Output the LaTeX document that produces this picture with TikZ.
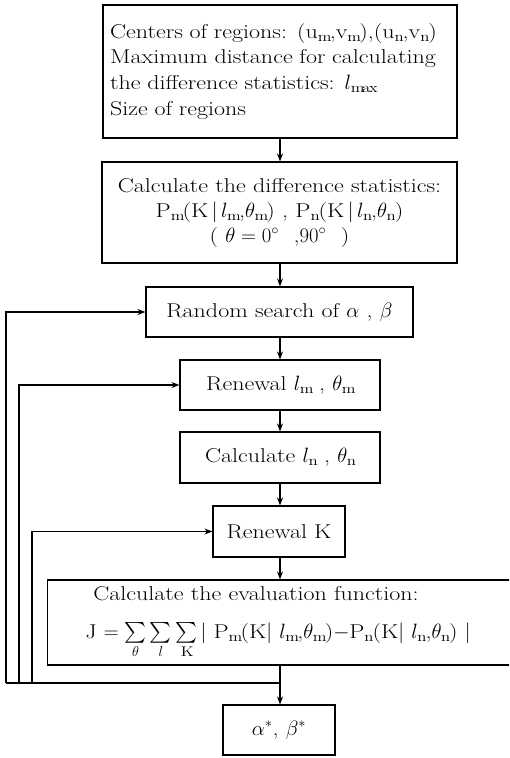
\documentclass[tikz,border=0pt]{standalone}
\usepackage{amsmath}
\usepackage{fontspec}
\setmainfont{Latin Modern Roman}[FakeStretch=1.2]
\usetikzlibrary{arrows.meta}
\newcommand{\tsum}{\mathop{\textstyle\sum}\limits}
\begin{document}
\begin{tikzpicture}[x=1pt,y=-1pt,
  txt/.style={font=\fontsize{20}{25}\selectfont},
  box/.style={draw,line width=1.1pt,inner sep=0pt,txt},
  flow/.style={line width=1.1pt,-{Stealth[length=8pt,width=6pt]}},
  loopline/.style={line width=1.1pt}]
\clip (0,0) rectangle (509,758);
\useasboundingbox (0,0) rectangle (509,758);
\node[box,minimum width=354pt,minimum height=133pt] (b1) at (280,71.5) {};
\node[txt,font=\fontsize{20}{25.7}\selectfont,text width=342pt,align=left,anchor=north west,inner sep=0pt] (t1) at (110,23)
  {Centers of regions: (u$_\mathrm{m}$,v$_\mathrm{m}$),(u$_\mathrm{n}$,v$_\mathrm{n}$)\\
   Maximum distance for calculating\\
   the difference statistics: $l_\mathrm{max}$\\
   Size of regions};
\node[box,minimum width=355pt,minimum height=101pt] (b2) at (279.5,212.5) {};
\node[txt,align=center,inner sep=0pt] (t2) at (279.5,213)
  {Calculate the difference statistics:\\
   P$_\mathrm{m}$(K$\,|\,l_\mathrm{m}$,$\theta_\mathrm{m}$) , P$_\mathrm{n}$(K$\,|\,l_\mathrm{n}$,$\theta_\mathrm{n}$)\\
   ( $\theta=0^\circ$ \ ,$90^\circ$ \ )};
\node[box,minimum width=267pt,minimum height=50pt] (b3) at (279.5,312)
  {Random search of $\alpha$ , $\beta$};
\node[box,minimum width=200pt,minimum height=50pt] (b4) at (280,385)
  {Renewal $l_\mathrm{m}$ , $\theta_\mathrm{m}$};
\node[box,minimum width=200pt,minimum height=51pt] (b5) at (280,457.5)
  {Calculate $l_\mathrm{n}$ , $\theta_\mathrm{n}$};
\node[box,minimum width=132pt,minimum height=51pt] (b6) at (279,531.5)
  {Renewal K};
\node[box,minimum width=470pt,minimum height=85pt,anchor=west] (b7) at (47,622.5) {};
\node[txt,anchor=base,inner sep=0pt] (t7a) at (256,600) {Calculate the evaluation function:};
\node[txt,anchor=base,inner sep=0pt] (t7b) at (278,638)
  {J $=\tsum_{\theta}\tsum_{l}\tsum_{\mathrm{K}}|$ P$_\mathrm{m}$(K$|$ $l_\mathrm{m}$,$\theta_\mathrm{m}$)$-$P$_\mathrm{n}$(K$|$ $l_\mathrm{n}$,$\theta_\mathrm{n}$) $|$};
\node[box,minimum width=112pt,minimum height=50pt] (b8) at (279,730)
  {$\alpha^{*}$, $\beta^{*}$};
\coordinate (j) at (280,683);
\coordinate (c1) at (6,683);
\coordinate (c2) at (19,683);
\coordinate (c3) at (32,683);
\draw[flow] (b1.south -| 280,0) -- (b2.north -| 280,0);
\draw[flow] (b2.south -| 280,0) -- (b3.north -| 280,0);
\draw[flow] (b3.south -| 280,0) -- (b4.north -| 280,0);
\draw[flow] (b4.south -| 280,0) -- (b5.north -| 280,0);
\draw[flow] (b5.south -| 280,0) -- (b6.north -| 280,0);
\draw[flow] (b6.south -| 280,0) -- (b7.north -| 280,0);
\draw[flow] (b7.south -| j) -- (j) -- (b8.north -| j);
\draw[loopline] (j) -- (c1);
\draw[flow] (c1) -- (c1 |- b3.west) -- (b3.west);
\draw[flow] (c2) -- (c2 |- b4.west) -- (b4.west);
\draw[flow] (c3) -- (c3 |- b6.west) -- (b6.west);
\end{tikzpicture}
\end{document}
